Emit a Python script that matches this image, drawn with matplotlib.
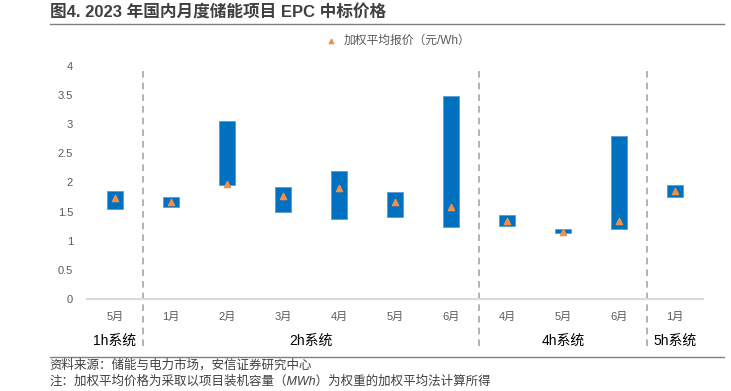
import matplotlib.pyplot as plt
import numpy as np

plt.rcParams['font.family'] = ['Liberation Sans', 'Noto Sans CJK SC', 'DejaVu Sans']

months = ['5月', '1月', '2月', '3月', '4月', '5月', '6月', '4月', '5月', '6月', '1月']
groups = ['1h系统', '2h系统', '4h系统', '5h系统']
group_sizes = [1, 6, 3, 1]
low = [1.54, 1.58, 1.95, 1.50, 1.38, 1.41, 1.24, 1.25, 1.13, 1.21, 1.75]
high = [1.86, 1.75, 3.05, 1.93, 2.20, 1.84, 3.49, 1.44, 1.20, 2.79, 1.95]
avg = [1.74, 1.66, 1.98, 1.77, 1.90, 1.66, 1.58, 1.34, 1.15, 1.34, 1.86]

fig = plt.figure(figsize=(7.31, 3.91), dpi=100)
ax = fig.add_axes([0.119, 0.2353, 0.8427, 0.596])

x = np.arange(len(months))
low = np.array(low)
high = np.array(high)
ax.bar(x, high - low, bottom=low, width=0.3, color='#0070C0',
       edgecolor='#5B9BD5', linewidth=0.6, zorder=2)
ax.scatter(x, avg, marker='^', s=20, color='#F0914A', zorder=3,
           label='加权平均报价（元/Wh）')

ax.set_xlim(-0.5, len(months) - 0.5)
ax.set_ylim(0, 4)
ax.set_yticks(np.arange(0, 4.01, 0.5))
ax.set_yticklabels(['0', '0.5', '1', '1.5', '2', '2.5', '3', '3.5', '4'])
ax.set_xticks(x)
ax.set_xticklabels(months)
ax.tick_params(axis='both', length=0, labelsize=8, colors='#595959')
ax.tick_params(axis='x', pad=9)
ax.tick_params(axis='y', pad=10)
for s in ['top', 'right', 'left']:
    ax.spines[s].set_visible(False)
ax.spines['bottom'].set_color('#D9D9D9')
ax.spines['bottom'].set_linewidth(1.5)

# group separators and labels
edges = np.cumsum(group_sizes)
for e in edges[:-1]:
    ax.axvline(e - 0.5, ymin=-0.2, ymax=0.995, color='#A6A6A6',
               linestyle=(0, (4, 3)), linewidth=1.2, clip_on=False, zorder=1)
start = 0
for g, n in zip(groups, group_sizes):
    ax.text(start + (n - 1) / 2, -0.18, g, transform=ax.get_xaxis_transform(),
            ha='center', va='center', fontsize=10, color='#000000')
    start += n

ax.legend(loc='lower center', bbox_to_anchor=(0.5, 1.03), frameon=False,
          fontsize=8.5, handletextpad=0.1, markerscale=0.7,
          labelcolor='#595959', borderaxespad=0.6)

fig.text(0.068, 0.967, '图4. 2023 年国内月度储能项目 EPC 中标价格', fontsize=12,
         fontweight='bold', color='#404040', ha='left', va='center')
fig.add_artist(plt.Line2D([0.068, 0.99], [0.938, 0.938], color='#808080', linewidth=1))
fig.add_artist(plt.Line2D([0.068, 0.99], [0.087, 0.087], color='#808080', linewidth=1))
fig.text(0.068, 0.066, '资料来源：储能与电力市场，安信证券研究中心', fontsize=9,
         color='#404040', ha='left', va='center', style='italic')
fig.text(0.068, 0.025, '注：加权平均价格为采取以项目装机容量（MWh）为权重的加权平均法计算所得',
         fontsize=9, color='#404040', ha='left', va='center', style='italic')

fig.savefig('out.png', dpi=100)
